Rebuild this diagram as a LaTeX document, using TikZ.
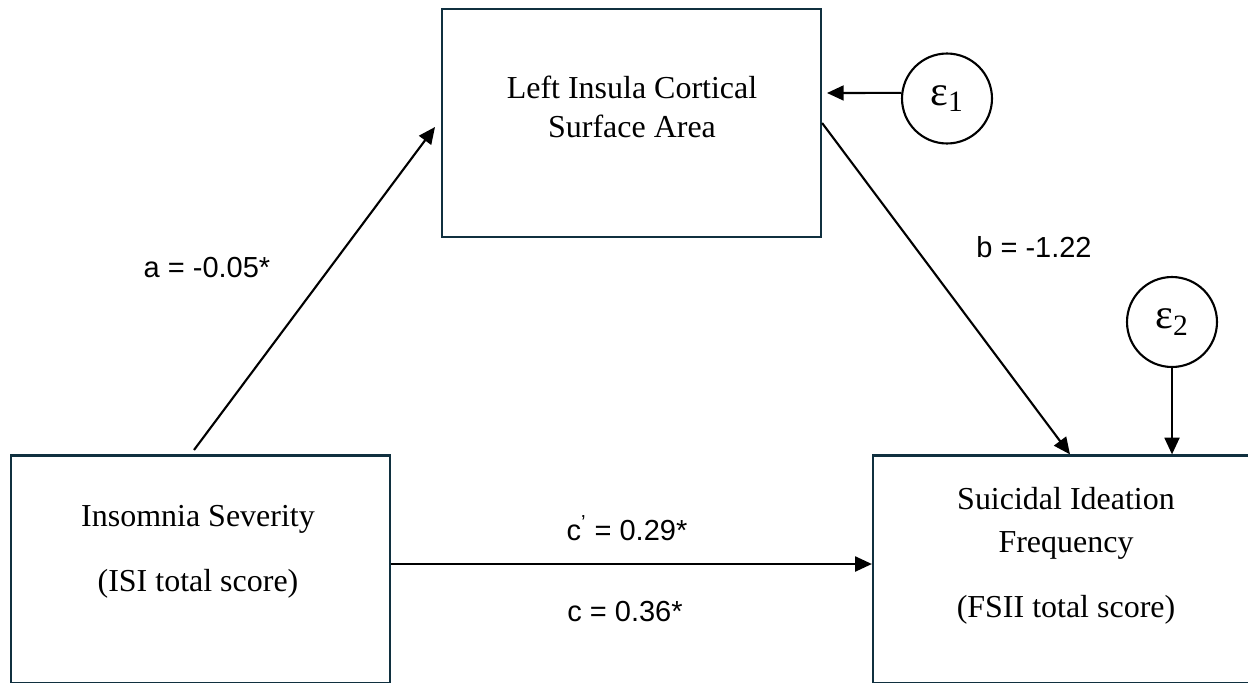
\documentclass[tikz,border=0pt]{standalone}
\usepackage{fontspec}
\setmainfont{Liberation Serif}
\setsansfont{Liberation Sans}
\usetikzlibrary{arrows.meta}
\definecolor{boxline}{HTML}{10303F}
\tikzset{>={Triangle[length=9.5pt,width=8.5pt]}}
\tikzset{var/.style = {shape=rectangle,draw=boxline,line width=1.3pt,minimum width=7.58cm,minimum height=4.56cm}}
\tikzset{vartext/.style = {align=center,font=\fontsize{18.2}{22}\selectfont}}
\tikzset{err/.style = {shape=circle,draw,line width=1.2pt,minimum size=1.8cm,inner sep=0pt,font=\fontsize{24}{26}\selectfont}}
\tikzset{coef/.style = {font=\sffamily\fontsize{16.5}{20}\selectfont}}
\tikzset{edge/.style = {->,line width=1.2pt}}

\begin{document}
\begin{tikzpicture}[x=0.02cm,y=-0.02cm]
            \useasboundingbox (0,0) rectangle (1248,683);
            \clip (0,0) rectangle (1248,683);

            \node[var] (insula) at (631.5,123) {};
            \node[var] (isi) at (200.5,569.5) {};
            \node[var] (fsii) at (1062.5,569.5) {};

            \node[vartext] (insula text) at (632,107) {Left Insula Cortical\\Surface Area};
            \node[vartext] (isi text) at (198,552) {Insomnia Severity\\[15pt](ISI total score)};
            \node[vartext] (fsii text) at (1066,556) {Suicidal Ideation\\[2.4pt]Frequency\\[15pt](FSII total score)};

            \node[err] (e1) at (947,98.5) {ε\textsubscript{1}};
            \node[err] (e2) at (1172,322) {ε\textsubscript{2}};

            \coordinate (a tail) at (194,450);
            \coordinate (a tip) at (435,127);
            \coordinate (e1 tip) at (827,93);

            \draw[edge] (a tail) to (a tip);
            \draw[edge] (insula.east) to ([xshift=0.15cm]fsii.north);
            \draw[edge] ([yshift=0.11cm]isi.east) to ([yshift=0.11cm]fsii.west);
            \draw[edge] (e1.173) to (e1 tip);
            \draw[edge] (e2.south) to (e2.south |- fsii.north);

            \node[coef] (a label) at (207,268) {a = -0.05*};
            \node[coef] (b label) at (1034,247) {b = -1.22};
            \node[coef] (cp label) at (627,528) {c\textsuperscript{’} = 0.29*};
            \node[coef] (c label) at (625,612) {c = 0.36*};
\end{tikzpicture}
\end{document}
